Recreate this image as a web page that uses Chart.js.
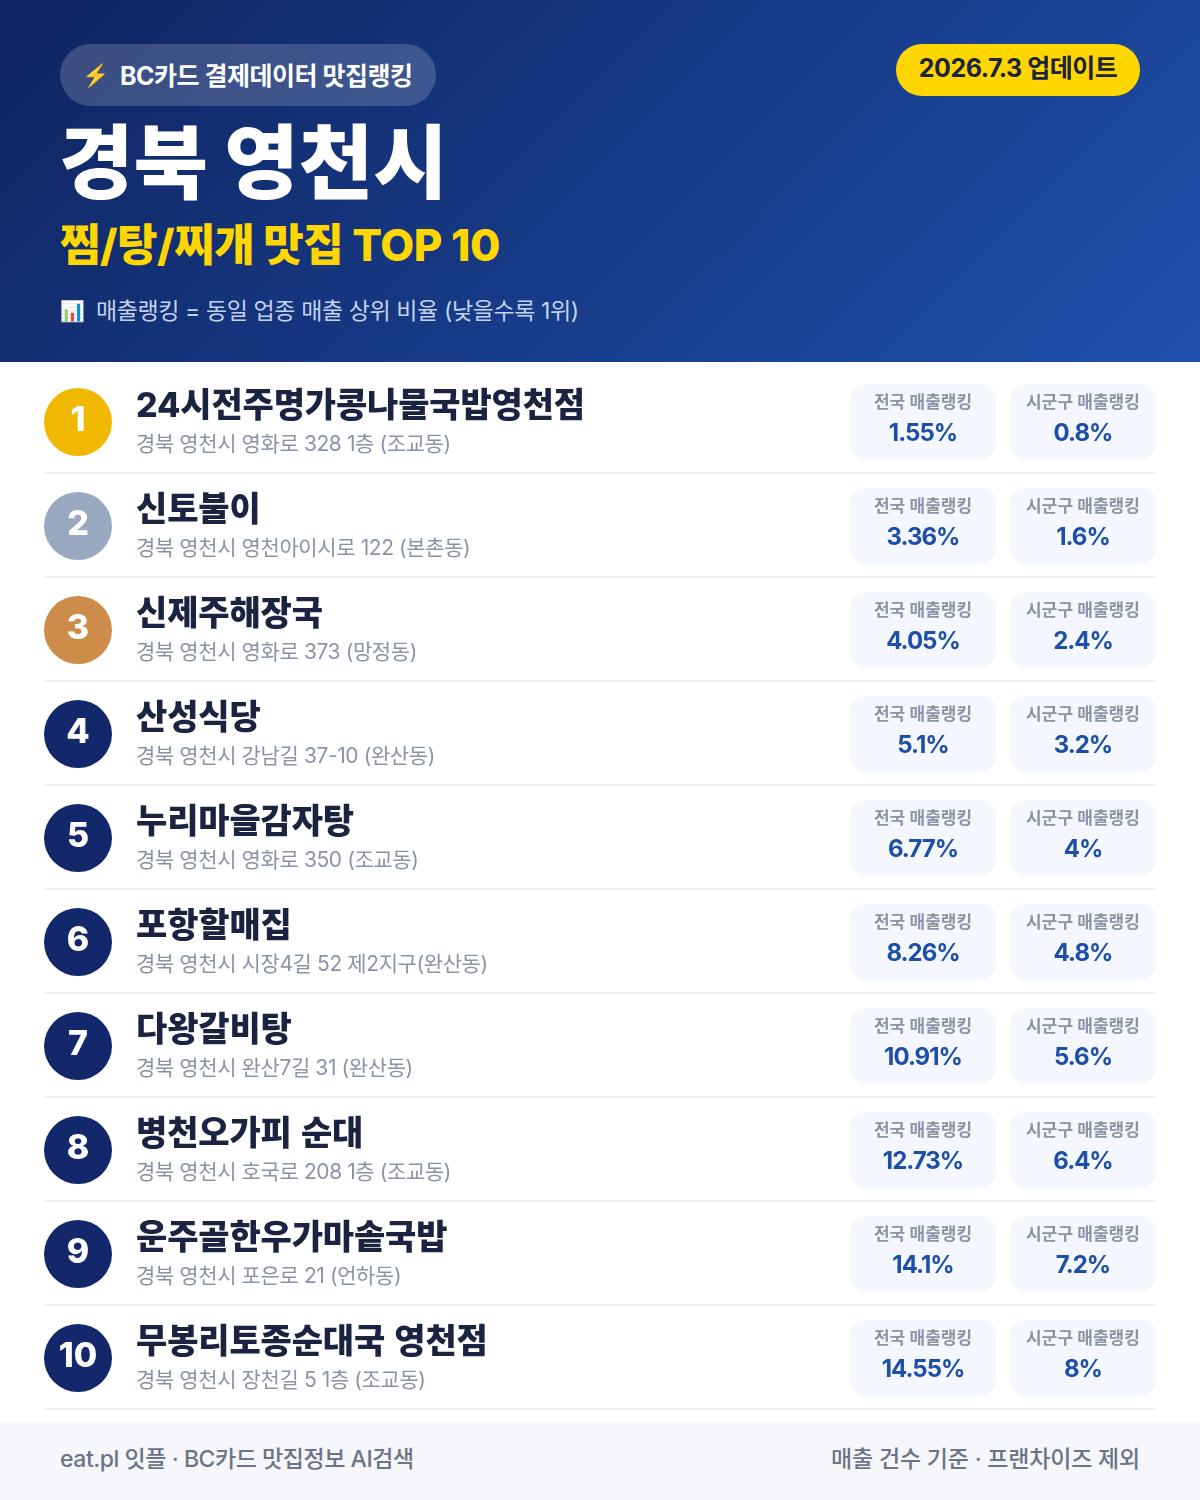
<!DOCTYPE html>
<html lang="ko"><head><meta charset="utf-8"><title>경북 영천시 찜/탕/찌개 맛집 TOP 10</title>
<script src="https://cdn.jsdelivr.net/npm/chart.js@4"></script>
<style>
html,body{margin:0;padding:0;background:#fff}
body{width:1200px;height:1500px;position:relative;overflow:hidden;font-family:Inter,"Noto Sans CJK KR",sans-serif}
#hd{position:absolute;left:0;top:0;width:1200px;height:362px;background:linear-gradient(135deg,#0f2460 0%,#1e50ab 100%)}
#hd div,#ft div{position:absolute;white-space:nowrap}
#pill{left:60px;top:44px;width:376px;height:62px;border-radius:31px;background:rgba(255,255,255,.18)}
#ic1{left:82px;top:60px;font-size:22px;line-height:30px}
#pt{left:120px;top:58px;font-size:25px;line-height:36px;font-weight:700;color:#fff;letter-spacing:-.5px}
#upd{left:896px;top:44px;width:244px;height:52px;border-radius:26px;background:#ffd600;color:#1a2340;font-size:25px;font-weight:700;line-height:49px;text-align:center;letter-spacing:-.5px}
#ttl{left:59px;top:108px;font-size:81px;line-height:110px;font-weight:900;color:#fff}
#sub{left:60px;top:213px;font-size:44px;line-height:64px;font-weight:800;color:#ffd600;letter-spacing:-.5px}
#ic2{left:60px;top:296px;font-size:20px;line-height:30px}
#nt{left:96px;top:294px;font-size:23px;line-height:34px;color:#c3d2ee;letter-spacing:-.4px}
#ft{position:absolute;left:0;top:1422px;width:1200px;height:78px;background:#f5f7fb}
#fl{left:60px;top:18px;font-size:23px;line-height:38px;font-weight:500;color:#6b7488;letter-spacing:-.45px}
#fr{right:60px;top:18px;font-size:23px;line-height:38px;font-weight:500;color:#6b7488;letter-spacing:-.2px}
#wrap{position:absolute;left:0;top:362px;width:1200px;height:1060px}
canvas{display:block}
</style></head><body>
<div id="hd">
<div id="pill"></div><div id="ic1">⚡</div><div id="pt">BC카드 결제데이터 맛집랭킹</div>
<div id="upd">2026.7.3 업데이트</div>
<div id="ttl">경북 영천시</div>
<div id="sub">찜/탕/찌개 맛집 TOP 10</div>
<div id="ic2">📊</div><div id="nt">매출랭킹 = 동일 업종 매출 상위 비율 (낮을수록 1위)</div>
</div>
<div id="wrap"><canvas id="c" width="1200" height="1060"></canvas></div>
<div id="ft"><div id="fl">eat.pl 잇플 · BC카드 맛집정보 AI검색</div><div id="fr">매출 건수 기준 · 프랜차이즈 제외</div></div>
<script>
const ranks=[1,2,3,4,5,6,7,8,9,10];
const names=["24시전주명가콩나물국밥영천점","신토불이","신제주해장국","산성식당","누리마을감자탕","포항할매집","다왕갈비탕","병천오가피 순대","운주골한우가마솥국밥","무봉리토종순대국 영천점"];
const addresses=["경북 영천시 영화로 328 1층 (조교동)","경북 영천시 영천아이시로 122 (본촌동)","경북 영천시 영화로 373 (망정동)","경북 영천시 강남길 37-10 (완산동)","경북 영천시 영화로 350 (조교동)","경북 영천시 시장4길 52 제2지구(완산동)","경북 영천시 완산7길 31 (완산동)","경북 영천시 호국로 208 1층 (조교동)","경북 영천시 포은로 21 (언하동)","경북 영천시 장천길 5 1층 (조교동)"];
const nationalRank=[1.55,3.36,4.05,5.1,6.77,8.26,10.91,12.73,14.1,14.55];
const districtRank=[0.8,1.6,2.4,3.2,4,4.8,5.6,6.4,7.2,8];
const nationalLabel="전국 매출랭킹";
const districtLabel="시군구 매출랭킹";

const FONT='Inter,"Noto Sans CJK KR",sans-serif';
const circleColors=["#f0b800","#9aa8c0","#cd8c4a","#12286a","#12286a","#12286a","#12286a","#12286a","#12286a","#12286a"];
const COL={circle:78,text:136,nat:[850,996],dis:[1010,1156]};

const rowText={id:'rowText',
 afterDatasetsDraw(ch){
  const c=ch.ctx,y=ch.scales.y,x=ch.scales.x;
  c.save();
  ranks.forEach((r,i)=>{
   const cy=y.getPixelForValue(i);
   c.fillStyle='#eef0f4';c.fillRect(x.left,cy+50,x.right-x.left,2);
   c.textBaseline='alphabetic';
   c.textAlign='center';c.fillStyle='#fff';c.font='800 34px '+FONT;c.letterSpacing='0px';c.wordSpacing='0px';
   c.fillText(String(r),x.getPixelForValue(COL.circle),cy+9);
   c.textAlign='left';
   c.fillStyle='#1a2340';c.font='800 34px '+FONT;c.letterSpacing='-0.15px';c.wordSpacing='2px';
   c.fillText(names[i],x.getPixelForValue(COL.text),cy-5);
   c.wordSpacing='0px';
   c.fillStyle='#8a94a6';c.font='400 21px '+FONT;c.letterSpacing='-0.4px';
   c.fillText(addresses[i],x.getPixelForValue(COL.text),cy+29);
   [[COL.nat,nationalLabel,nationalRank[i]],[COL.dis,districtLabel,districtRank[i]]].forEach(([span,lab,val])=>{
    const mx=x.getPixelForValue((span[0]+span[1])/2);
    c.textAlign='center';
    c.fillStyle='#8a94a6';c.font='600 17px '+FONT;c.letterSpacing='0px';
    c.fillText(lab,mx,cy-14);
    c.fillStyle='#1e4fa8';c.font='700 24px '+FONT;c.letterSpacing='-1px';
    c.fillText(val+'%',mx,cy+19);
   });
  });
  c.restore();
 }};

new Chart(document.getElementById('c'),{
 type:'bar',
 data:{labels:names,datasets:[
  {label:nationalLabel,data:ranks.map(()=>COL.nat),backgroundColor:'#f4f7fd',borderRadius:16,borderSkipped:false,barThickness:76,grouped:false},
  {label:districtLabel,data:ranks.map(()=>COL.dis),backgroundColor:'#f4f7fd',borderRadius:16,borderSkipped:false,barThickness:76,grouped:false},
  {type:'scatter',label:'순위',data:ranks.map((r,i)=>({x:COL.circle,y:names[i]})),pointRadius:34,pointHoverRadius:34,pointBorderWidth:0,pointBackgroundColor:circleColors,showLine:false,clip:false}
 ]},
 options:{indexAxis:'y',responsive:false,animation:false,devicePixelRatio:1,
  layout:{autoPadding:false,padding:{top:8,bottom:12,left:44,right:44}},
  plugins:{legend:{display:false},tooltip:{enabled:false},title:{display:false}},
  scales:{
   x:{type:'linear',min:44,max:1156,display:false},
   y:{type:'category',offset:true,display:false}
  }},
 plugins:[rowText]
});
</script>
</body></html>
